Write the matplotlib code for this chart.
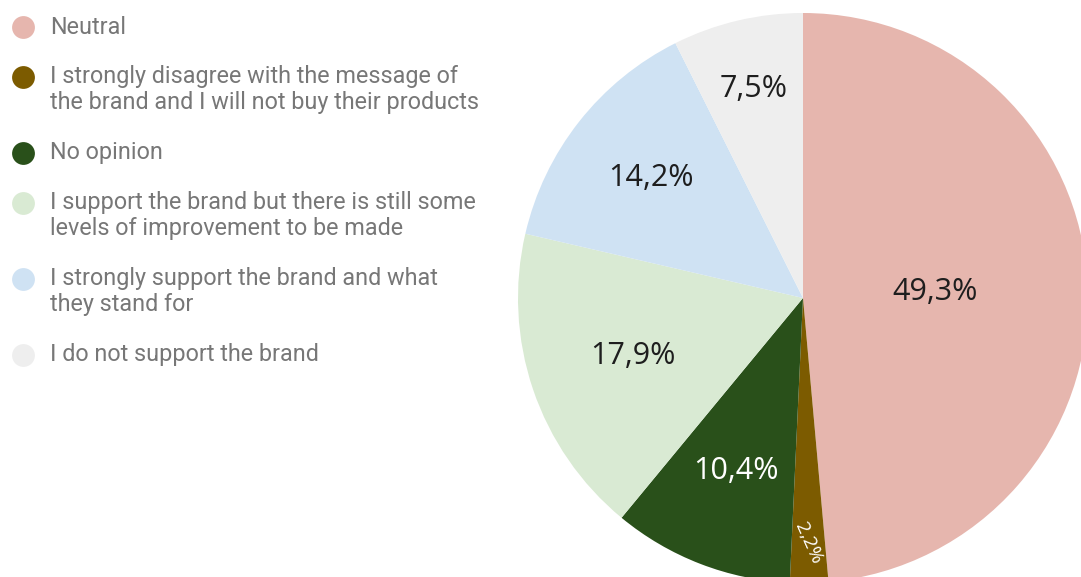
import numpy as np
import matplotlib
matplotlib.use("Agg")
import matplotlib.pyplot as plt

# Survey answers, listed clockwise from 12 o'clock
categories = [
    "Neutral",
    "I strongly disagree with the message of\nthe brand and I will not buy their products",
    "No opinion",
    "I support the brand but there is still some\nlevels of improvement to be made",
    "I strongly support the brand and what\nthey stand for",
    "I do not support the brand",
]
shares = [49.3, 2.2, 10.4, 17.9, 14.2, 7.5]
share_labels = ["49,3%", "2,2%", "10,4%", "17,9%", "14,2%", "7,5%"]
colors = ["#E6B6AE", "#7C5B00", "#29501A", "#D9EAD3", "#CFE2F3", "#EEEEEE"]
label_colors = ["#1E1E1E", "#FFFFFF", "#FFFFFF", "#1E1E1E", "#1E1E1E", "#1E1E1E"]

# radial placement of each percentage label (fraction of radius)
label_radius = [0.465, 0.86, 0.65, 0.63, 0.68, 0.755]

W, H, DPI = 1081, 577, 100
fig = plt.figure(figsize=(W / DPI, H / DPI), dpi=DPI)
fig.patch.set_facecolor("white")

# pie axes: square box in pixels, centred at (803, 298) with radius 285
cx, cy, R = 803, 298, 285
ax = fig.add_axes([(cx - R) / W, (H - cy - R) / H, 2 * R / W, 2 * R / H])
wedges, _ = ax.pie(shares, colors=colors, startangle=90, counterclock=False,
                   radius=1.0, wedgeprops=dict(linewidth=0))
ax.set_xlim(-1, 1)
ax.set_ylim(-1, 1)
ax.set_aspect("equal")
ax.axis("off")

for w, txt, col, rr in zip(wedges, share_labels, label_colors, label_radius):
    mid = np.deg2rad((w.theta1 + w.theta2) / 2)
    x, y = rr * np.cos(mid), rr * np.sin(mid)
    small = (w.theta2 - w.theta1) < 15
    if small:
        ax.text(x, y, txt, ha="center", va="center", color=col,
                fontsize=14, family="Open Sans", rotation=-66)
    else:
        ax.text(x, y, txt, ha="center", va="center", color=col,
                fontsize=22, family="Open Sans")

# legend drawn in a pixel-coordinate axes on the left
lax = fig.add_axes([0, 0, 1, 1])
lax.set_xlim(0, W)
lax.set_ylim(H, 0)
lax.axis("off")
lax.set_zorder(-1)

y = 27
line_h = 26
gap = 24
for name, col in zip(categories, colors):
    lax.scatter([23], [y], s=270, color=col, zorder=3, linewidths=0)
    lines = name.split("\n")
    for i, ln in enumerate(lines):
        lax.text(50, y + i * line_h, ln, ha="left", va="center",
                 color="#777777", fontsize=16.8, family="Roboto")
    y += len(lines) * line_h + gap

fig.savefig("out.png", dpi=DPI, facecolor="white")
